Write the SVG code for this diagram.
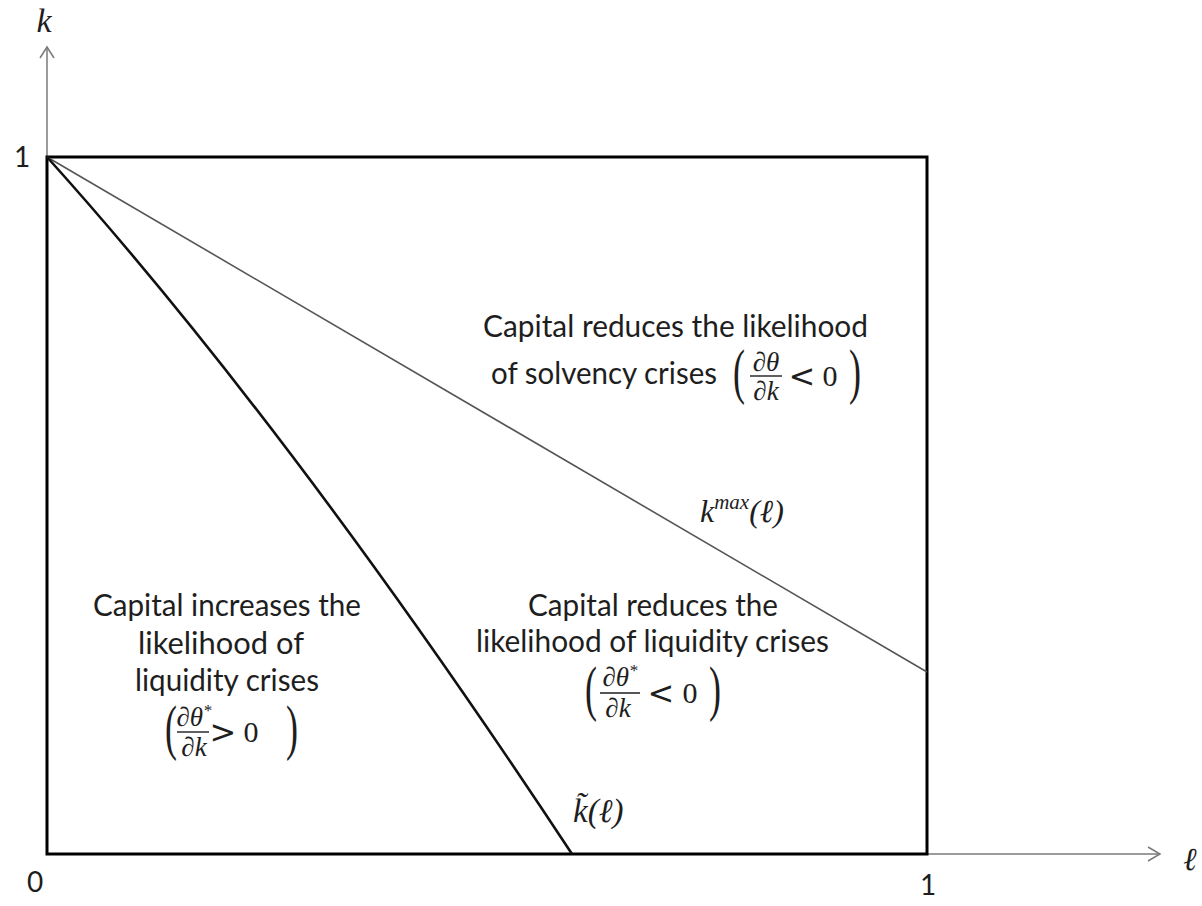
<svg xmlns="http://www.w3.org/2000/svg" width="1202" height="906" viewBox="0 0 1202 906">
<style>
.t{font-family:Lato,"Open Sans","Liberation Sans",sans-serif;font-size:30px;fill:#1e1e1e}
.n{font-family:Lato,"Open Sans","Liberation Sans",sans-serif;font-size:28px;fill:#1e1e1e}
.m{font-family:"Liberation Serif","DejaVu Serif",serif;font-style:italic;fill:#1e1e1e}
.r{font-family:"Liberation Serif","DejaVu Serif",serif;fill:#1e1e1e}
.op{font-family:"DejaVu Sans","Liberation Sans",sans-serif;font-size:32px;fill:#1e1e1e}
.axis{stroke:#7a7a7a;stroke-width:1.5;fill:none}
.bar{stroke:#1e1e1e;stroke-width:1.4}
</style>
<rect width="1202" height="906" fill="#fff"/>
<g id="connectors">
<line class="axis" x1="47" y1="157" x2="47" y2="48"/>
<polyline class="axis" points="40,58 47,47 54,58"/>
<line class="axis" x1="927" y1="854" x2="1159" y2="854"/>
<polyline class="axis" points="1148,847 1160,854 1148,861"/>
<rect x="47" y="157" width="880" height="697" fill="none" stroke="#000" stroke-width="3"/>
<line x1="47" y1="157" x2="927" y2="672" stroke="#555" stroke-width="1.6"/>
<path d="M47,157 Q291,428 572,854" fill="none" stroke="#111" stroke-width="2.6"/>
</g>
<g id="axis-labels">
<text class="m" x="44" y="32" font-size="34" text-anchor="middle">k</text>
<text class="n" x="22" y="167" text-anchor="middle">1</text>
<text class="n" x="35" y="892" text-anchor="middle">0</text>
<text class="n" x="928" y="895" text-anchor="middle">1</text>
<text class="m" x="1190" y="870" font-size="32" text-anchor="middle">ℓ</text>
</g>
<g id="label-solvency">
<text class="t" x="483" y="337" textLength="385" lengthAdjust="spacingAndGlyphs">Capital reduces the likelihood</text>
<text class="t" x="491" y="384" textLength="226" lengthAdjust="spacingAndGlyphs">of solvency crises</text>
<g transform="translate(733,392) scale(1,1.7)"><text class="r" font-size="36">(</text></g>
<text class="m" x="766" y="371" font-size="27" text-anchor="middle">∂θ</text>
<line class="bar" x1="750" y1="376" x2="782" y2="376"/>
<text class="m" x="766" y="400" font-size="27" text-anchor="middle">∂k</text>
<text class="op" x="802" y="387" text-anchor="middle">&lt;</text>
<text class="r" x="830" y="386" font-size="30" text-anchor="middle">0</text>
<g transform="translate(849,392) scale(1,1.7)"><text class="r" font-size="36">)</text></g>
</g>
<g id="label-kmax">
<text class="m" x="700" y="522" font-size="32">k<tspan font-size="21" dy="-13">max</tspan><tspan dy="13">(ℓ)</tspan></text>
</g>
<g id="label-liquidity-reduce">
<text class="t" x="528" y="616" textLength="250" lengthAdjust="spacingAndGlyphs">Capital reduces the</text>
<text class="t" x="476" y="652" textLength="353" lengthAdjust="spacingAndGlyphs">likelihood of liquidity crises</text>
<g transform="translate(585,709) scale(1,1.7)"><text class="r" font-size="36">(</text></g>
<text class="m" x="620" y="686" font-size="27" text-anchor="middle">∂θ<tspan font-size="17" dy="-10">*</tspan></text>
<line class="bar" x1="600" y1="693" x2="640" y2="693"/>
<text class="m" x="618" y="717" font-size="27" text-anchor="middle">∂k</text>
<text class="op" x="661" y="704" text-anchor="middle">&lt;</text>
<text class="r" x="690" y="703" font-size="30" text-anchor="middle">0</text>
<g transform="translate(709,709) scale(1,1.7)"><text class="r" font-size="36">)</text></g>
</g>
<g id="label-liquidity-increase">
<text class="t" x="93" y="616" textLength="268" lengthAdjust="spacingAndGlyphs">Capital increases the</text>
<text class="t" x="138" y="654" textLength="166" lengthAdjust="spacingAndGlyphs">likelihood of</text>
<text class="t" x="135" y="691" textLength="184" lengthAdjust="spacingAndGlyphs">liquidity crises</text>
<g transform="translate(165,748) scale(1,1.7)"><text class="r" font-size="36">(</text></g>
<text class="m" x="194" y="726" font-size="27" text-anchor="middle">∂θ<tspan font-size="17" dy="-10">*</tspan></text>
<line class="bar" x1="177" y1="732" x2="209" y2="732"/>
<text class="m" x="194" y="756" font-size="27" text-anchor="middle">∂k</text>
<text class="op" x="223" y="743" text-anchor="middle">&gt;</text>
<text class="r" x="251" y="742" font-size="30" text-anchor="middle">0</text>
<g transform="translate(286,748) scale(1,1.7)"><text class="r" font-size="36">)</text></g>
</g>
<g id="label-ktilde">
<text class="m" x="573" y="822" font-size="33">k̃(ℓ)</text>
</g>
</svg>
